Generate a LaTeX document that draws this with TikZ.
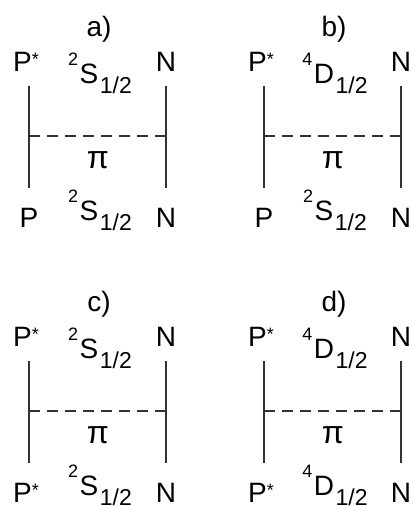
\documentclass[tikz,border=0pt]{standalone}
\usepackage{fontspec}
\setmainfont{Liberation Sans}
\usetikzlibrary{positioning}
\definecolor{linegray}{RGB}{50,50,50}
\newcommand{\term}[2]{\raisebox{0.64em}{\fontsize{18}{18}\selectfont #1}\kern1.5pt#2\kern1.5pt\raisebox{-0.37em}{\fontsize{23}{23}\selectfont 1/2}}
\newcommand{\pst}{P\raisebox{0.21em}{\fontsize{18}{18}\selectfont *}\kern6pt}

\begin{document}
\begin{tikzpicture}[
    x=1pt, y=-1pt,
    lbl/.style={font=\fontsize{28}{30}\selectfont, inner sep=0pt, anchor=base},
    leg/.style={line width=2pt, linegray},
    pion/.style={line width=2pt, linegray, dash pattern=on 11pt off 7pt}
]
\useasboundingbox (0,0) rectangle (414,506);
\foreach \pn/\dx/\dy/\ptop/\stop/\ltop/\pbot/\sbot/\lbot in
    {a/0/0/\pst/2/S/P/2/S, b/235/0/\pst/4/D/P/2/S,
     c/0/275/\pst/2/S/\pst/2/S, d/235/275/\pst/4/D/\pst/4/D}{
  \begin{scope}[shift={(\dx,\dy)}]
    \node[lbl] (\pn-title) at (99,36) {\pn)};
    \node[lbl] (\pn-pt) at (29,71) {\ptop};
    \node[lbl] (\pn-nt) at (166,71) {N};
    \node[lbl] (\pn-st) at (100,83) {\term{\stop}{\ltop}};
    \node[lbl] (\pn-pb) at (29,227) {\pbot};
    \node[lbl] (\pn-nb) at (166,227) {N};
    \node[lbl] (\pn-sb) at (100,220) {\term{\sbot}{\lbot}};
    % legs and exchanged pion
    \coordinate (\pn-l1) at (29,86);
    \coordinate (\pn-l2) at (29,188);
    \coordinate (\pn-r1) at (166,86);
    \coordinate (\pn-r2) at (166,188);
    \coordinate (\pn-lm) at (29,136);
    \coordinate (\pn-rm) at (166,136);
    \draw[leg] (\pn-l1) -- (\pn-l2);
    \draw[leg] (\pn-r1) -- (\pn-r2);
    \draw[pion] (\pn-lm) -- (\pn-rm);
    \node[lbl, font=\fontsize{32}{34}\selectfont] (\pn-pi) at (98,168) {π};
  \end{scope}
}
\end{tikzpicture}
\end{document}
